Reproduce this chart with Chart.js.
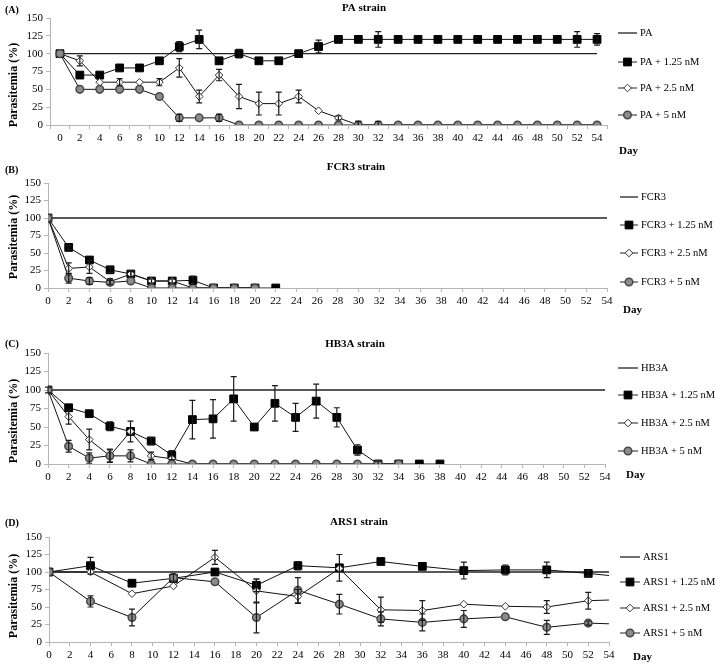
<!DOCTYPE html>
<html>
<head>
<meta charset="utf-8">
<script src="https://cdn.jsdelivr.net/npm/chart.js@4.4.0/dist/chart.umd.min.js"></script>
<style>
  body { margin: 0; background: #fff; }
  canvas { display: block; }
</style>
</head>
<body>
<canvas id="chartA" width="716" height="160"></canvas>
<canvas id="chartB" width="716" height="160"></canvas>
<canvas id="chartC" width="716" height="170"></canvas>
<canvas id="chartD" width="716" height="175"></canvas>
<script>
// ---- data ----
const ctrlDays = [0, 54];
const ctrlVals = [100, 100];

// (A) PA strain, every 2 days
const paDays = [0,2,4,6,8,10,12,14,16,18,20,22,24,26,28,30,32,34,36,38,40,42,44,46,48,50,52,54];
const pa125 = [100,70,70,80,80,90,110,120,90,100,90,90,100,110,120,120,120,120,120,120,120,120,120,120,120,120,120,120];
const pa125Err = [0,0,0,0,0,0,7,13,0,6,0,0,0,9,0,0,11,0,0,0,0,0,0,0,4,0,11,8];
const pa25 = [100,90,60,60,60,60,80,40,70,40,30,30,40,20,10,0,0,0,0,0,0,0,0,0,0,0,0,0];
const pa25Err = [0,7,0,5,0,5,13,9,8,17,16,16,9,0,3,5,0,0,0,0,0,0,0,0,0,0,0,0];
const pa5 = [100,50,50,50,50,40,10,10,10,0,0,0,0,0,0,0,0,0,0,0,0,0,0,0,0,0,0,0];
const pa5Err = [0,0,0,0,0,0,5,0,5,0,0,0,0,0,0,5,5,0,0,0,0,0,0,0,0,0,0,0];

// (B) FCR3 strain
const fcrDays125 = [0,2,4,6,8,10,12,14,16,18,20,22];
const fcr125 = [100,58,40,26,20,10,10,11,0,0,0,0];
const fcr125Err = [0,3,0,4,4,3,3,6,0,0,0,0];
const fcrDays25 = [0,2,4,6,8,10,12,14,16,18,20];
const fcr25 = [100,28,30,9,20,10,10,0,0,0,0];
const fcr25Err = [0,8,9,4,4,0,0,0,0,0,0];
const fcrDays5 = [0,2,4,6,8,10,12,14,16,18,20];
const fcr5 = [100,14,10,8,10,0,0,0,0,0,0];
const fcr5Err = [0,7,5,3,0,0,0,0,0,0,0];

// (C) HB3A strain
const hbDays125 = [0,2,4,6,8,10,12,14,16,18,20,22,24,26,28,30,32,34,36,38];
const hb125 = [100,76,68,51,44,31,12,60,61,88,50,82,63,85,63,19,0,0,0,0];
const hb125Err = [4,0,0,6,0,5,6,26,26,30,0,24,19,23,13,7,4,0,0,0];
const hbDays25 = [0,2,4,6,8,10,12,14,16,18,20,22,24,26,28,30,32,34];
const hb25 = [100,64,33,11,44,11,7,0,0,0,0,0,0,0,0,0,0,0];
const hb25Err = [0,10,14,8,14,5,0,0,0,0,0,0,0,0,0,0,0,0];
const hbDays5 = [0,2,4,6,8,10,12,14,16,18,20,22,24,26,28,30,32,34];
const hb5 = [100,24,8,11,11,0,0,0,0,0,0,0,0,0,0,0,0,0];
const hb5Err = [0,8,7,9,8,0,0,0,0,0,0,0,0,0,0,0,0,0];

// (D) ARS1 strain, every 4 days
const arsDays = [0,4,8,12,16,20,24,28,32,36,40,44,48,52,54];
const ars125 = [100,109,84,91,100,81,109,106,115,108,102,103,103,98,95];
const ars125Err = [0,12,0,6,0,9,6,19,0,0,12,7,11,4,0];
const ars25 = [100,100,69,80,121,73,65,105,46,45,54,51,50,59,60];
const ars25Err = [0,0,0,0,10,17,10,0,18,14,0,0,9,12,0];
const ars5 = [100,58,35,92,86,35,74,54,33,28,33,36,21,27,26];
const ars5Err = [0,8,12,0,0,22,18,14,10,12,12,0,10,3,0];

Chart.defaults.font.family = '"Liberation Serif", "Times New Roman", serif';
Chart.defaults.font.size = 11;
Chart.defaults.color = '#000';

const axisGrey = '#b5b5b5';

const styles = {
  ctrl: { pointRadius: 0, borderColor: '#222', borderWidth: 1.3 },
  low:  { pointStyle: 'rect', pointRadius: 5.5, pointBackgroundColor: '#000', pointBorderColor: '#000', pointBorderWidth: 1, borderColor: '#111', borderWidth: 1 },
  mid:  { pointStyle: 'rectRot', pointRadius: 3.8, pointBackgroundColor: '#fff', pointBorderColor: '#333', pointBorderWidth: 1, borderColor: '#111', borderWidth: 1 },
  high: { pointStyle: 'circle', pointRadius: 3.8, pointBackgroundColor: '#8c8c8c', pointBorderColor: '#474747', pointBorderWidth: 1.5, borderColor: '#111', borderWidth: 1 }
};

function series(label, days, vals, errs, style, order, openEnd) {
  const base = styles[style];
  return Object.assign({}, base, {
    label: label,
    data: days ? days.map((d, i) => ({ x: d, y: vals[i] })) : vals,
    errors: errs,
    order: order,
    tension: 0,
    fill: false,
    marker: style,
    pointRadius: openEnd
      ? (c => c.dataIndex === vals.length - 1 ? 0 : base.pointRadius)
      : base.pointRadius
  });
}

function ctrlSeries(label, asLabels) {
  return series(label, asLabels ? ctrlDays.map(String) : ctrlDays, ctrlVals, null, 'ctrl', 4);
}

// error bars drawn on top of the markers
const errorBars = {
  id: 'errorBars',
  afterDatasetsDraw(chart) {
    const c = chart.ctx, ys = chart.scales.y;
    c.save();
    c.strokeStyle = '#1a1a1a';
    c.lineWidth = 1.2;
    chart.data.datasets.forEach((ds, di) => {
      if (!ds.errors) return;
      const meta = chart.getDatasetMeta(di);
      meta.data.forEach((pt, i) => {
        const e = ds.errors[i];
        if (!e) return;
        const v = meta.controller.getParsed(i).y;
        const yt = ys.getPixelForValue(v + e);
        const yb = ys.getPixelForValue(Math.max(0, v - e));
        c.beginPath();
        c.moveTo(pt.x, yt); c.lineTo(pt.x, yb);
        c.moveTo(pt.x - 3, yt); c.lineTo(pt.x + 3, yt);
        if (v - e > 0) { c.moveTo(pt.x - 3, yb); c.lineTo(pt.x + 3, yb); }
        c.stroke();
      });
    });
    c.restore();
  }
};

function drawMarker(c, ds, x, y) {
  const r = styles[ds.marker].pointRadius;
  c.save();
  c.fillStyle = ds.pointBackgroundColor;
  c.strokeStyle = ds.pointBorderColor;
  c.lineWidth = ds.pointBorderWidth;
  c.beginPath();
  if (ds.marker === 'low') {
    const s = r * Math.SQRT1_2;
    c.rect(x - s, y - s, 2 * s, 2 * s);
  } else if (ds.marker === 'mid') {
    c.moveTo(x - r, y); c.lineTo(x, y - r); c.lineTo(x + r, y); c.lineTo(x, y + r); c.closePath();
  } else {
    c.arc(x, y, r, 0, Math.PI * 2);
  }
  c.fill();
  c.stroke();
  c.restore();
}

// panel letter, title, axis titles and the legend on the right
const panelText = {
  id: 'panelText',
  afterDraw(chart, args, o) {
    const c = chart.ctx;
    c.save();
    c.fillStyle = '#000';
    c.textBaseline = 'middle';
    c.font = 'bold 10px "Liberation Serif"';
    c.textAlign = 'left';
    c.fillText(o.tag, 5, o.tagY);
    c.font = 'bold 11px "Liberation Serif"';
    c.textAlign = 'center';
    c.fillText(o.title, o.titleX, o.titleY);
    c.textAlign = 'left';
    c.fillText('Day', o.dayX, o.dayY);
    c.save();
    c.translate(14, o.yTitleY);
    c.rotate(-Math.PI / 2);
    c.textAlign = 'center';
    c.font = 'bold 12px "Liberation Serif"';
    c.fillText('Parasitemia (%)', 0, 0);
    c.restore();

    c.font = '10.5px "Liberation Serif"';
    chart.data.datasets.forEach((ds, i) => {
      const y = o.legY[i];
      c.strokeStyle = '#222';
      c.lineWidth = ds.marker === 'ctrl' ? 1.3 : 1;
      c.beginPath();
      c.moveTo(o.legX0, y); c.lineTo(o.legX1, y);
      c.stroke();
      if (ds.marker !== 'ctrl') drawMarker(c, ds, (o.legX0 + o.legX1) / 2, y);
      c.fillStyle = '#000';
      c.fillText(ds.label, o.legX1 + 3, y);
    });
    c.restore();
  }
};

function makeChart(id, cfg) {
  const H = cfg.height;
  const gridOpts = { display: true, drawOnChartArea: false, drawTicks: true, tickLength: 4, color: axisGrey, lineWidth: 1 };
  const xScale = cfg.category
    ? { type: 'category', offset: true, grid: Object.assign({ offset: true }, gridOpts),
        border: { color: axisGrey }, ticks: { autoSkip: false, maxRotation: 0, padding: 3 },
        afterFit: s => { s.height = H - cfg.area.bottom; } }
    : { type: 'linear', min: 0, max: 54, grid: gridOpts, border: { color: axisGrey },
        ticks: { stepSize: 2, autoSkip: false, maxRotation: 0, padding: 3 },
        afterFit: s => { s.height = H - cfg.area.bottom; } };
  return new Chart(document.getElementById(id).getContext('2d'), {
    type: 'line',
    data: { labels: cfg.labels, datasets: cfg.datasets },
    options: {
      responsive: false,
      animation: false,
      devicePixelRatio: 1,
      layout: { padding: { left: 0, top: cfg.area.top, right: 716 - cfg.area.right, bottom: 0 } },
      plugins: { legend: { display: false }, tooltip: { enabled: false }, panelText: cfg.text },
      scales: {
        x: xScale,
        y: { min: 0, max: 150, grid: gridOpts, border: { color: axisGrey },
             ticks: { stepSize: 25, padding: 3 },
             afterFit: s => { s.width = cfg.area.left; } }
      }
    },
    plugins: [errorBars, panelText]
  });
}

makeChart('chartA', {
  height: 160, category: true, labels: paDays.map(String),
  area: { left: 50, right: 607, top: 18, bottom: 125 },
  datasets: [
    ctrlSeries('PA', true),
    series('PA + 1.25 nM', null, pa125, pa125Err, 'low', 3),
    series('PA + 2.5 nM', null, pa25, pa25Err, 'mid', 2),
    series('PA + 5 nM', null, pa5, pa5Err, 'high', 1)
  ],
  text: { tag: '(A)', tagY: 10, title: 'PA strain', titleX: 364, titleY: 8, yTitleY: 85,
          dayX: 619, dayY: 151, legY: [33, 62, 88, 115], legX0: 618, legX1: 637 }
});

makeChart('chartB', {
  height: 160,
  area: { left: 48, right: 607, top: 23, bottom: 128 },
  datasets: [
    ctrlSeries('FCR3'),
    series('FCR3 + 1.25 nM', fcrDays125, fcr125, fcr125Err, 'low', 3),
    series('FCR3 + 2.5 nM', fcrDays25, fcr25, fcr25Err, 'mid', 2),
    series('FCR3 + 5 nM', fcrDays5, fcr5, fcr5Err, 'high', 1)
  ],
  text: { tag: '(B)', tagY: 10, title: 'FCR3 strain', titleX: 356, titleY: 7, yTitleY: 77,
          dayX: 623, dayY: 150, legY: [37, 65, 93, 122], legX0: 620, legX1: 638 }
});

makeChart('chartC', {
  height: 170,
  area: { left: 48, right: 605, top: 33, bottom: 144 },
  datasets: [
    ctrlSeries('HB3A'),
    series('HB3A + 1.25 nM', hbDays125, hb125, hb125Err, 'low', 3),
    series('HB3A + 2.5 nM', hbDays25, hb25, hb25Err, 'mid', 2),
    series('HB3A + 5 nM', hbDays5, hb5, hb5Err, 'high', 1)
  ],
  text: { tag: '(C)', tagY: 24, title: 'HB3A strain', titleX: 355, titleY: 24, yTitleY: 101,
          dayX: 626, dayY: 155, legY: [48, 75, 103, 131], legX0: 618, legX1: 638 }
});

makeChart('chartD', {
  height: 175,
  area: { left: 49, right: 609, top: 47, bottom: 152 },
  datasets: [
    ctrlSeries('ARS1'),
    series('ARS1 + 1.25 nM', arsDays, ars125, ars125Err, 'low', 3, true),
    series('ARS1 + 2.5 nM', arsDays, ars25, ars25Err, 'mid', 2, true),
    series('ARS1 + 5 nM', arsDays, ars5, ars5Err, 'high', 1, true)
  ],
  text: { tag: '(D)', tagY: 33, title: 'ARS1 strain', titleX: 359, titleY: 32, yTitleY: 106,
          dayX: 633, dayY: 167, legY: [67, 92, 118, 143], legX0: 620, legX1: 640 }
});
</script>
</body>
</html>
